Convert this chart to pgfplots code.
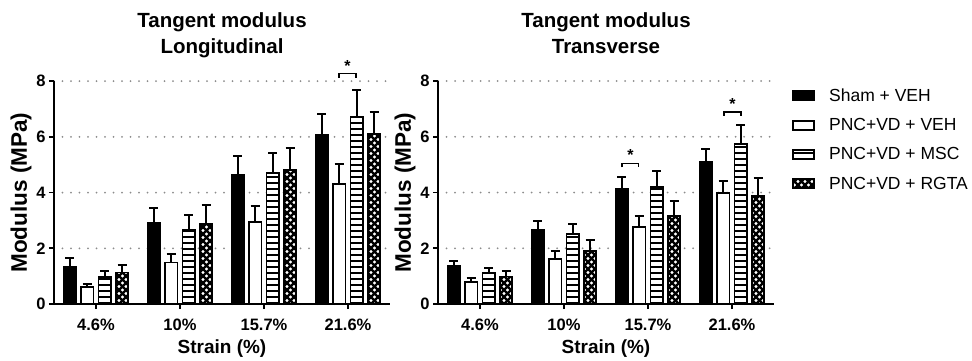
\documentclass[border=0pt]{standalone}
\usepackage{fontspec}
\setmainfont{Liberation Sans}
\usepackage{pgfplots}
\pgfplotsset{compat=1.18}
\usetikzlibrary{patterns}

\pgfdeclarepatternformonly{hstripes}{\pgfpoint{-1pt}{-1pt}}{\pgfpoint{7pt}{7pt}}{\pgfpoint{6pt}{6pt}}{%
  \pgfsetlinewidth{2.1pt}%
  \pgfpathmoveto{\pgfpoint{-1pt}{3pt}}\pgfpathlineto{\pgfpoint{7pt}{3pt}}%
  \pgfusepath{stroke}}
\pgfdeclarepatternformonly{diamondx}{\pgfpoint{-1pt}{-1pt}}{\pgfpoint{8pt}{8pt}}{\pgfpoint{7pt}{7pt}}{%
  \pgfsetlinewidth{2.4pt}%
  \pgfpathmoveto{\pgfpoint{-1pt}{-1pt}}\pgfpathlineto{\pgfpoint{8pt}{8pt}}%
  \pgfpathmoveto{\pgfpoint{-1pt}{8pt}}\pgfpathlineto{\pgfpoint{8pt}{-1pt}}%
  \pgfusepath{stroke}}

\newcommand\tickfont{\fontsize{16.5}{18}\selectfont\bfseries}
\newcommand\labfont{\fontsize{19}{22}\selectfont\bfseries}
\newcommand\ylabfont{\fontsize{22.5}{24}\selectfont\bfseries}
\newcommand\titfont{\fontsize{20.5}{24}\selectfont\bfseries}

\pgfplotsset{
  modstyle/.style={
    scale only axis, width=336pt, height=223pt,
    xmin=-0.5, xmax=3.5, ymin=0, ymax=8,
    ytick={0,2,4,6,8}, xtick={0,1,2,3},
    xticklabels={4.6\%,10\%,15.7\%,21.6\%},
    axis lines=left,
    axis line style={line width=1.8pt, -, black},
    tick style={line width=1.8pt, black},
    major tick length=5pt, tick align=outside,
    ymajorgrids,
    grid style={draw=gray!90, line width=2pt, dash pattern=on 0pt off 8.5pt, line cap=round},
    ticklabel style={font=\tickfont},
    xticklabel style={yshift=-6pt},
    /pgf/number format/assume math mode=true,
    xlabel={Strain (\%)},
    ylabel={Modulus (MPa)},
    xlabel style={font=\labfont, at={(axis description cs:0.5,0)}, anchor=center, yshift=-45pt},
    ylabel style={font=\ylabfont, at={(axis description cs:-0.098,0.5)}, anchor=center},
    ybar, bar width=0.15,
    clip=false,
    error bars/y dir=plus, error bars/y explicit,
    error bars/error bar style={line width=1.8pt, black},
    error bars/error mark options={rotate=90, mark size=4.5pt, line width=1.8pt, black},
  },
  b1/.style={fill=black, draw=black, line width=1.8pt, bar shift=-0.31},
  b2/.style={fill=white, draw=black, line width=1.8pt, bar shift=-0.105},
  b3/.style={fill=white, draw=black, line width=1.8pt, bar shift=0.105, postaction={pattern=hstripes}},
  b4/.style={fill=white, draw=black, line width=1.8pt, bar shift=0.31, postaction={pattern=diamondx}},
  brk/.style={sharp plot, black, line width=1.3pt, forget plot, mark=none},
}

\begin{document}
\begin{tikzpicture}
\useasboundingbox (0,0) rectangle (972pt,360pt);

\node[font=\titfont, anchor=base] at (222pt,333pt) {Tangent modulus};
\node[font=\titfont, anchor=base] at (222pt,307pt) {Longitudinal};
\node[font=\titfont, anchor=base] at (606pt,333pt) {Tangent modulus};
\node[font=\titfont, anchor=base] at (606pt,307pt) {Transverse};

\begin{axis}[modstyle, at={(54pt,56pt)}, anchor=south west]
\addplot[b1] coordinates {(0,1.32) +- (0,0.33) (1,2.90) +- (0,0.54) (2,4.62) +- (0,0.68) (3,6.06) +- (0,0.75)};
\addplot[b2] coordinates {(0,0.60) +- (0,0.12) (1,1.49) +- (0,0.30) (2,2.94) +- (0,0.59) (3,4.31) +- (0,0.70)};
\addplot[b3] coordinates {(0,0.98) +- (0,0.20) (1,2.67) +- (0,0.53) (2,4.70) +- (0,0.73) (3,6.70) +- (0,0.97)};
\addplot[b4] coordinates {(0,1.13) +- (0,0.28) (1,2.88) +- (0,0.66) (2,4.81) +- (0,0.79) (3,6.10) +- (0,0.79)};
\addplot[brk] coordinates {(2.893,8.12) (2.893,8.26) (3.095,8.26) (3.095,8.12)};
\node[font=\fontsize{16}{16}\selectfont\bfseries] at (axis cs:2.994,8.55) {*};
\end{axis}

\begin{axis}[modstyle, at={(438pt,56pt)}, anchor=south west,
  legend style={at={(axis description cs:1.054,0.975)}, anchor=north west, draw=none, fill=none,
    font=\fontsize{17.5}{20}\selectfont, row sep=11.5pt, inner sep=0pt,
    nodes={inner sep=2pt},
    /tikz/every odd column/.append style={column sep=12pt}},
  legend cell align=left,
  legend image code/.code={\draw[#1, line width=1.8pt] (1pt,-4.5pt) rectangle (22pt,4.5pt);},
]
\addplot[b1] coordinates {(0,1.35) +- (0,0.20) (1,2.66) +- (0,0.33) (2,4.12) +- (0,0.44) (3,5.09) +- (0,0.46)};
\addlegendentry{Sham + VEH}
\addplot[b2] coordinates {(0,0.78) +- (0,0.15) (1,1.61) +- (0,0.30) (2,2.75) +- (0,0.41) (3,3.99) +- (0,0.42)};
\addlegendentry{PNC+VD + VEH}
\addplot[b3] coordinates {(0,1.11) +- (0,0.18) (1,2.50) +- (0,0.37) (2,4.20) +- (0,0.57) (3,5.73) +- (0,0.68)};
\addlegendentry{PNC+VD + MSC}
\addplot[b4] coordinates {(0,0.99) +- (0,0.20) (1,1.91) +- (0,0.39) (2,3.15) +- (0,0.54) (3,3.87) +- (0,0.66)};
\addlegendentry{PNC+VD + RGTA}
\addplot[brk] coordinates {(1.69,4.90) (1.69,5.04) (1.89,5.04) (1.89,4.90)};
\addplot[brk] coordinates {(2.905,6.76) (2.905,6.89) (3.107,6.89) (3.107,6.76)};
\node[font=\fontsize{16}{16}\selectfont\bfseries] at (axis cs:1.79,5.33) {*};
\node[font=\fontsize{16}{16}\selectfont\bfseries] at (axis cs:3.006,7.19) {*};
\end{axis}
\end{tikzpicture}
\end{document}
